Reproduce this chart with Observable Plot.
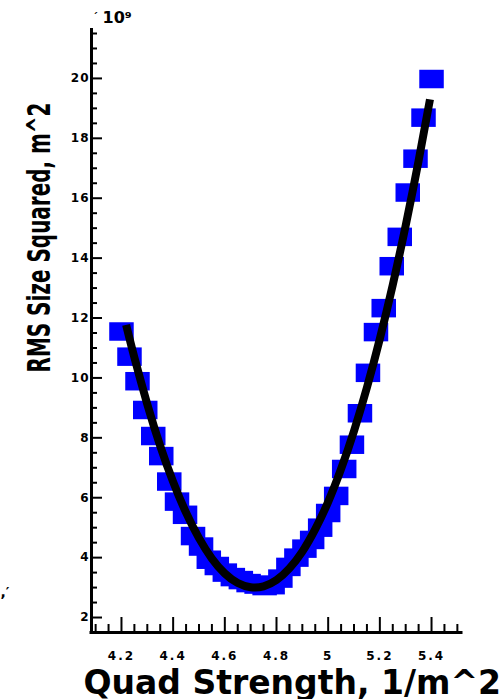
<!DOCTYPE html>
<html>
<head>
<meta charset="utf-8">
<script src="https://cdn.jsdelivr.net/npm/d3@7"></script>
<script src="https://cdn.jsdelivr.net/npm/@observablehq/plot@0.6"></script>
<style>
  body { margin: 0; background: #fff; }
  #chart svg { display: block; }
</style>
</head>
<body>
<div id="chart"></div>
<script>
// Quadrupole scan: beam size squared versus quad strength, with parabolic fit.
const quadStrength = [
  4.200, 4.231, 4.262, 4.292, 4.323, 4.354, 4.385, 4.415, 4.446, 4.477,
  4.508, 4.538, 4.569, 4.600, 4.631, 4.662, 4.692, 4.723, 4.754, 4.785,
  4.815, 4.846, 4.877, 4.908, 4.938, 4.969, 5.000, 5.031, 5.062, 5.092,
  5.123, 5.154, 5.185, 5.215, 5.246, 5.277, 5.308, 5.338, 5.369, 5.400
];
// RMS size squared, in units of 1e-9 m^2
const rmsSizeSquared = [
  11.55, 10.71, 9.89, 8.93, 8.06, 7.39, 6.54, 5.87, 5.43, 4.72,
  4.37, 3.93, 3.72, 3.50, 3.35, 3.25, 3.15, 3.10, 3.05, 3.08,
  3.30, 3.69, 4.00, 4.30, 4.59, 5.00, 5.49, 6.06, 6.96, 7.77,
  8.82, 10.17, 11.53, 12.33, 13.73, 14.71, 16.19, 17.32, 18.69, 19.98
];
// Fitted parabola
const fitStrength = [
  4.218, 4.25, 4.30, 4.35, 4.40, 4.45, 4.50, 4.55, 4.60, 4.65, 4.70, 4.75, 4.80,
  4.85, 4.90, 4.95, 5.00, 5.05, 5.10, 5.15, 5.20, 5.25, 5.30, 5.35, 5.394
];
const fitSize = [
  11.77, 10.68, 9.12, 7.73, 6.53, 5.50, 4.65, 3.97, 3.47, 3.15, 3.01, 3.04, 3.25,
  3.64, 4.20, 4.95, 5.86, 6.96, 8.23, 9.68, 11.31, 13.11, 15.09, 17.25, 19.30
];
const xTicks = [4.2, 4.4, 4.6, 4.8, 5.0, 5.2, 5.4];
const xTickLabels = ["4.2", "4.4", "4.6", "4.8", "5", "5.2", "5.4"];
const yTicks = [2, 4, 6, 8, 10, 12, 14, 16, 18, 20];
const yTickLabels = ["2", "4", "6", "8", "10", "12", "14", "16", "18", "20"];
const xTitle = "Quad Strength, 1/m^2";
const yTitle = "RMS Size Squared, m^2";
const yExponent = "10\u2079";

const points = quadStrength.map((x, i) => ({x, y: rmsSizeSquared[i]}));
const fit = fitStrength.map((x, i) => ({x, y: fitSize[i]}));

const W = 501, H = 699;
const margin = {left: 91, right: 40, top: 30, bottom: 67};
const frameW = W - margin.left - margin.right;
const frameH = H - margin.top - margin.bottom;
const xDomain = [4.084, 5.516];
const yDomain = [1.5, 21.6];

const xMinor = d3.range(4.1, 5.52, 0.05).filter(v => !xTicks.some(t => Math.abs(t - v) < 1e-6));
const yMinor = d3.range(2.5, 21.6, 0.5).filter(v => !yTicks.includes(v));

// Rectangular marker for the measured points
const rectSymbol = {
  draw(context) {
    const w = 12.25, h = 9.25;
    context.rect(-w, -h, 2 * w, 2 * h);
  }
};

const bold = {fontWeight: "bold"};

const chart = Plot.plot({
  width: W,
  height: H,
  marginLeft: margin.left,
  marginRight: margin.right,
  marginTop: margin.top,
  marginBottom: margin.bottom,
  style: {fontFamily: "DejaVu Sans", background: "#fff", color: "#000", overflow: "visible"},
  x: {domain: xDomain},
  y: {domain: yDomain},
  marks: [
    // measured points
    Plot.dot(points, {x: "x", y: "y", symbol: rectSymbol, fill: "#0000ff", stroke: null}),
    // fit curve
    Plot.line(fit, {x: "x", y: "y", stroke: "#000", strokeWidth: 8, curve: "natural", strokeLinecap: "butt"}),
    // inward tick marks
    Plot.tickX(xMinor, {x: d => d, insetTop: frameH - 8, stroke: "#000", strokeWidth: 2}),
    Plot.tickX(xTicks, {x: d => d, insetTop: frameH - 15, stroke: "#000", strokeWidth: 2}),
    Plot.tickY(yMinor, {y: d => d, insetRight: frameW - 6, stroke: "#000", strokeWidth: 2}),
    Plot.tickY(yTicks, {y: d => d, insetRight: frameW - 11, stroke: "#000", strokeWidth: 2}),
    // axis lines
    Plot.ruleX([xDomain[0]], {stroke: "#000", strokeWidth: 3, insetTop: -2}),
    Plot.ruleY([yDomain[0]], {stroke: "#000", strokeWidth: 3, strokeLinecap: "square"}),
    // tick labels
    Plot.axisX(xTicks, {label: null, tickSize: 0, tickPadding: 19, fontSize: 12, ...bold,
      tickFormat: d => xTickLabels[xTicks.indexOf(d)]}),
    Plot.axisY(yTicks, {label: null, tickSize: 0, tickPadding: 2, fontSize: 12, ...bold,
      tickFormat: d => yTickLabels[yTicks.indexOf(d)]}),
    // titles
    Plot.text([xTitle], {text: d => d, frameAnchor: "bottom-left", textAnchor: "start", lineAnchor: "bottom",
      dx: -8, dy: 61, fontSize: 33, ...bold}),
    Plot.text([yTitle], {text: d => d, frameAnchor: "left", textAnchor: "start", lineAnchor: "bottom",
      rotate: -90, dx: -42, dy: 372 - (margin.top + frameH / 2), fontSize: 32, ...bold}),
    // exponent
    Plot.text([yExponent], {text: d => d, frameAnchor: "top-left", textAnchor: "start", lineAnchor: "bottom",
      dx: 11, dy: -8, fontSize: 16, ...bold}),
    Plot.text(["\u00b4"], {text: d => d, frameAnchor: "top-left", textAnchor: "start", lineAnchor: "bottom",
      dx: 1, dy: -10, fontSize: 11, ...bold}),
    Plot.text([",\u2032"], {text: d => d, frameAnchor: "bottom-left", textAnchor: "start", lineAnchor: "bottom",
      dx: -91, dy: -36, fontSize: 14, ...bold})
  ]
});

// The vertical title is set in a tall face compressed along its run
d3.select(chart).selectAll("text")
  .filter(function () { return this.textContent === yTitle; })
  .attr("textLength", 270)
  .attr("lengthAdjust", "spacingAndGlyphs");

// Tick labels are letter-spaced
d3.select(chart).selectAll("[aria-label='x-axis tick label'] text")
  .style("letter-spacing", "2px");
d3.select(chart).selectAll("[aria-label='y-axis tick label'] text")
  .style("letter-spacing", "1px");

document.getElementById("chart").appendChild(chart);
</script>
</body>
</html>
